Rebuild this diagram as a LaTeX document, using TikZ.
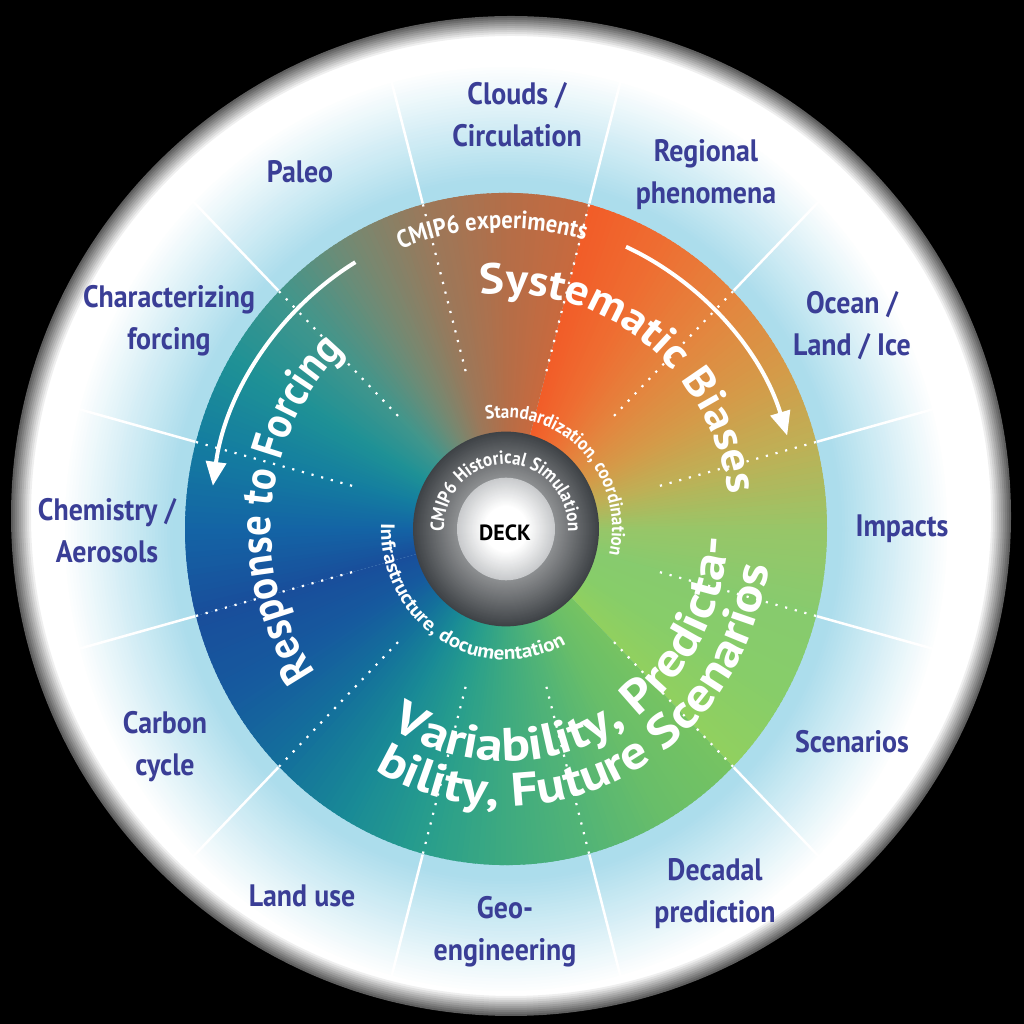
\documentclass[tikz,border=0pt]{standalone}
\usepackage{fontspec}
\setmainfont{PT Sans}
\newfontfamily\labfont{PT Sans}[FakeStretch=0.9]
\newfontfamily\diskfont{PT Sans}[FakeStretch=0.9]
\newfontfamily\diskB{PT Sans}[FakeStretch=1.08]
\newfontfamily\diskC{PT Sans}[FakeStretch=1.14]
\usetikzlibrary{decorations.text,arrows.meta}
\definecolor{labblue}{RGB}{58,62,150}
\definecolor{lbA}{RGB}{172,221,236}
\definecolor{ringin}{RGB}{140,142,144}
\definecolor{ringout}{RGB}{62,66,70}
\definecolor{deckedge}{RGB}{200,202,204}
\definecolor{A0}{RGB}{145,208,95}
\definecolor{A1}{RGB}{135,205,105}
\definecolor{A2}{RGB}{135,203,110}
\definecolor{A3}{RGB}{152,198,104}
\definecolor{A4}{RGB}{190,176,86}
\definecolor{A5}{RGB}{214,153,72}
\definecolor{A6}{RGB}{228,132,62}
\definecolor{A7}{RGB}{238,110,50}
\definecolor{A8}{RGB}{242,92,40}
\definecolor{B0}{RGB}{200,105,62}
\definecolor{B1}{RGB}{180,110,72}
\definecolor{B2}{RGB}{155,120,90}
\definecolor{B3}{RGB}{115,138,115}
\definecolor{B4}{RGB}{65,150,140}
\definecolor{B5}{RGB}{30,145,150}
\definecolor{B6}{RGB}{20,125,160}
\definecolor{B7}{RGB}{20,100,165}
\definecolor{B8}{RGB}{25,78,155}
\definecolor{C0}{RGB}{25,78,155}
\definecolor{C1}{RGB}{22,90,158}
\definecolor{C2}{RGB}{20,112,155}
\definecolor{C3}{RGB}{25,138,150}
\definecolor{C4}{RGB}{40,158,140}
\definecolor{C5}{RGB}{62,170,128}
\definecolor{C6}{RGB}{82,180,118}
\definecolor{C7}{RGB}{105,190,105}
\definecolor{C8}{RGB}{118,195,98}
\tikzset{
  lab/.style={font=\labfont\bfseries\fontsize{31}{42}\selectfont, text=labblue, align=center, inner sep=0pt},
  spoke/.style={draw=white, line width=2.5pt},
  dotline/.style={draw=white, line width=2.2pt, dash pattern=on 2.2pt off 7.8pt},
  bigarrow/.style={draw=white, line width=4pt, -{Triangle[length=24pt,width=20pt,fill=white]}},
}
\begin{document}
\begin{tikzpicture}[x=1pt,y=1pt]
\useasboundingbox (0,0) rectangle (1024,1024);
\fill[black] (0,0) rectangle (1024,1024);
\fill[white] (511,508) circle (500);
% pale blue halo round the wheel
\begin{scope}[shift={(506,495)},yscale=1.047]
  \foreach \r in {450,447,...,322}{
    \pgfmathsetmacro\t{max(0,min(1,(445-\r)/110))}
    \pgfmathtruncatemacro\p{100*\t}
    \colorlet{hc}{lbA!\p!white}
    \fill[hc] (0,0) circle (\r);
  }
\end{scope}
% soft black edge of the white disc
\foreach \k in {1,...,16}{
  \pgfmathsetmacro\op{1/(17-\k)}
  \fill[black, fill opacity=\op, even odd rule] (-5,-5) rectangle (1029,1029) (511,508) circle ({478+2*\k});
}
\begin{scope}[shift={(506,495)},yscale=1.047]
  % spokes in the outer ring
  \foreach \a in {15,45,...,345}{
    \draw[spoke] (\a:322) -- (\a:445);
  }
  % coloured wheel
  \foreach \s/\st in {A/-45,B/75,C/195}{
    \foreach \i in {0,...,119}{
      \pgfmathtruncatemacro\k{floor(\i/15)}
      \pgfmathtruncatemacro\kk{min(\k+1,8)}
      \pgfmathtruncatemacro\p{100-round(100*(\i+0.5-15*\k)/15)}
      \pgfmathsetmacro\d{(\i==119) ? 1 : 1.6}
      \pgfmathsetmacro\aa{\st+\i}
      \colorlet{wc}{\s\k!\p!\s\kk}
      \fill[wc] (0,0) -- (\aa:321) arc[start angle=\aa, delta angle=\d, radius=321] -- cycle;
    }
  }
  % dotted dividers
  \foreach \a in {15,45,...,345}{
    \draw[dotline] (\a:321) -- (\a:152);
  }
  % centre ring and DECK disc
  \foreach \r in {93,92,...,50}{
    \pgfmathtruncatemacro\p{100*(\r-50)/43}
    \colorlet{gc}{ringout!\p!ringin}
    \fill[gc] (0,0) circle (\r);
  }
  \foreach \r in {49,48,...,1}{
    \pgfmathtruncatemacro\p{100*max(0,(\r-22)/27)}
    \colorlet{dc}{deckedge!\p!white}
    \fill[dc] (0,0) circle (\r);
  }
  % curved texts
  \path[decorate, decoration={text along path, text align=center, text color=white,
    text={|\diskfont\bfseries\fontsize{25}{25}\selectfont|CMIP6 experiments}}]
    (140:287) arc[start angle=140, end angle=45.5, radius=287];
  \path[decorate, decoration={text along path, text align=center, text color=white,
    text={|\diskB\bfseries\fontsize{43}{43}\selectfont|Systematic Biases}}]
    (130:225) arc[start angle=130, end angle=-24, radius=225];
  \path[decorate, decoration={text along path, text align=center, text color=white,
    text={|\diskfont\bfseries\fontsize{45}{45}\selectfont|Response to Forcing}}]
    (260:235) arc[start angle=260, end angle=89, radius=235];
  \path[decorate, decoration={text along path, text align=center, text color=white,
    text={|\diskC\bfseries\fontsize{47}{47}\selectfont|Variability, Predicta-}}]
    (220:222) arc[start angle=220, end angle=376, radius=222];
  \path[decorate, decoration={text along path, text align=center, text color=white,
    text={|\diskC\bfseries\fontsize{47}{47}\selectfont|bility, Future Scenarios}}]
    (218.5:265) arc[start angle=218.5, end angle=373.5, radius=265];
  \path[decorate, decoration={text along path, text align=center, text color=white,
    text={|\diskfont\bfseries\fontsize{19}{19}\selectfont|Standardization, coordination}}]
    (130:106) arc[start angle=130, end angle=-42, radius=106];
  \path[decorate, decoration={text along path, text align=center, text color=white,
    text={|\diskB\bfseries\fontsize{19.5}{19.5}\selectfont|Infrastructure, documentation}}]
    (160:125) arc[start angle=160, end angle=317, radius=125];
  \path[decorate, decoration={text along path, text align=center, text color=white,
    text={|\diskfont\bfseries\fontsize{19}{19}\selectfont|CMIP6 Historical Simulation}}]
    (210:62) arc[start angle=210, end angle=-30, radius=62];
  % arrows
  \coordinate (la) at (120.6:296);
  \coordinate (ra) at (66:295);
  \draw[bigarrow] (la) arc[start angle=120.6, end angle=172, radius=296];
  \draw[bigarrow] (ra) arc[start angle=66, end angle=17.6, radius=295];
\end{scope}
\node[font=\bfseries\fontsize{22}{22}\selectfont, text=black] (deck) at (505,491) {DECK};
% outer labels
\node[lab] (clouds) at (517,909.5) {Clouds /\\Circulation};
\node[lab] (paleo) at (300,852) {Paleo};
\node[lab] (regional) at (706,849) {Regional\\phenomena};
\node[lab] (charforc) at (169,703) {Characterizing\\forcing};
\node[lab] (ocean) at (852,698) {Ocean /\\Land / Ice};
\node[lab] (chem) at (107,493) {Chemistry /\\Aerosols};
\node[lab] (impacts) at (902,495) {Impacts};
\node[lab] (carbon) at (165,277) {Carbon\\cycle};
\node[lab] (scen) at (852,282) {Scenarios};
\node[lab] (landuse) at (302,128) {Land use};
\node[lab] (geo) at (505,92) {Geo-\\engineering};
\node[lab] (decadal) at (715,130) {Decadal\\prediction};
\end{tikzpicture}
\end{document}
